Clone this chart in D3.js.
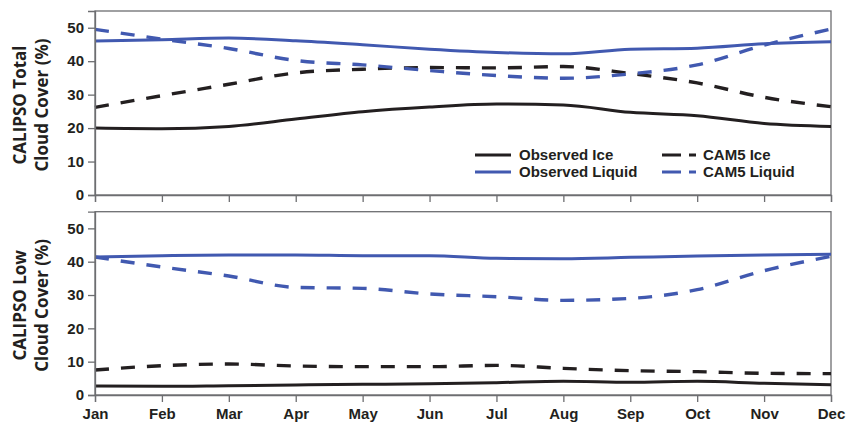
<!DOCTYPE html>
<html><head><meta charset="utf-8">
<script src="https://cdn.jsdelivr.net/npm/d3@7"></script>
<style>body{margin:0;background:#fff}</style>
</head><body>
<svg id="c" width="849" height="423"></svg>
<script>
const months = ["Jan","Feb","Mar","Apr","May","Jun","Jul","Aug","Sep","Oct","Nov","Dec"];
const yTicks = [0,10,20,30,40,50];
// Top panel: CALIPSO Total Cloud Cover (%)
const totalObsIce    = [20.0,19.8,20.5,22.7,24.9,26.3,27.2,26.9,24.7,23.7,21.4,20.5];
const totalObsLiquid = [46.0,46.4,46.9,46.1,44.9,43.6,42.6,42.2,43.6,43.9,45.2,45.8];
const totalCamIce    = [26.2,29.7,33.1,36.5,37.6,38.1,38.0,38.4,36.3,33.5,29.2,26.4];
const totalCamLiquid = [49.5,46.6,43.8,40.2,38.9,37.2,35.7,34.9,36.2,38.9,44.8,49.6];
// Bottom panel: CALIPSO Low Cloud Cover (%)
const lowObsIce    = [2.7,2.6,2.8,3.0,3.2,3.4,3.7,4.1,3.8,4.1,3.5,3.1];
const lowObsLiquid = [41.4,41.8,42.0,42.0,41.8,41.8,41.0,40.9,41.3,41.7,42.0,42.2];
const lowCamIce    = [7.5,8.8,9.3,8.7,8.5,8.5,8.9,8.0,7.3,7.0,6.5,6.4];
const lowCamLiquid = [41.4,38.4,35.7,32.3,32.0,30.3,29.5,28.4,29.0,31.6,37.3,41.6];

const BLACK = "#231f20", BLUE = "#4159b0", FRAME = "#6d6e71";
const DASH = "14,12";
const svg = d3.select("#c");
const L = 95, R = 831;
const x = d3.scalePoint().domain(months).range([L, R]);

const panels = [
  {top: 11, bottom: 195, title: ["CALIPSO Total","Cloud Cover (%)"],
   series: [
     {v: totalObsIce, c: BLACK, dash: null},
     {v: totalObsLiquid, c: BLUE, dash: null},
     {v: totalCamIce, c: BLACK, dash: DASH},
     {v: totalCamLiquid, c: BLUE, dash: DASH}], labels: false, legend: true},
  {top: 211.7, bottom: 395, title: ["CALIPSO Low","Cloud Cover (%)"],
   series: [
     {v: lowObsIce, c: BLACK, dash: null},
     {v: lowObsLiquid, c: BLUE, dash: null},
     {v: lowCamIce, c: BLACK, dash: DASH},
     {v: lowCamLiquid, c: BLUE, dash: DASH}], labels: true, legend: false}
];

panels.forEach(p => {
  const y = d3.scaleLinear().domain([0,55]).range([p.bottom, p.top]);
  const g = svg.append("g");
  g.append("rect").attr("x", L).attr("y", p.top).attr("width", R-L).attr("height", p.bottom-p.top)
    .attr("fill","none").attr("stroke", FRAME).attr("stroke-width", 1.3);

  const line = d3.line().x((d,i)=>x(months[i])).y(d=>y(d)).curve(d3.curveMonotoneX);
  p.series.forEach(s => {
    g.append("path").datum(s.v).attr("d", line).attr("fill","none")
      .attr("stroke", s.c).attr("stroke-width", s.dash ? 3.4 : 3)
      .attr("stroke-dasharray", s.dash);
  });

  const ya = g.append("g").attr("transform", `translate(${L},0)`)
    .call(d3.axisLeft(y).tickValues(yTicks).tickSize(7).tickPadding(4));
  ya.select(".domain").attr("stroke", FRAME).attr("stroke-width",1.3);
  ya.selectAll(".tick line").attr("stroke", FRAME).attr("stroke-width",1.3);
  ya.selectAll("text").attr("font-family","Liberation Sans, Arial, sans-serif")
    .attr("font-weight","bold").attr("font-size",15).attr("fill", BLACK);

  const xa = g.append("g").attr("transform", `translate(0,${p.bottom})`)
    .call(d3.axisBottom(x).tickSize(7).tickPadding(6).tickFormat(p.labels ? d=>d : ()=>""));
  xa.select(".domain").attr("stroke", FRAME).attr("stroke-width",1.3);
  xa.selectAll(".tick line").attr("stroke", FRAME).attr("stroke-width",1.3);
  xa.selectAll("text").attr("font-family","Liberation Sans, Arial, sans-serif")
    .attr("font-weight","bold").attr("font-size",15).attr("fill", BLACK);

  const cy = (p.top + p.bottom)/2 + 2;
  const t = g.append("text").attr("transform", `translate(26,${cy}) rotate(-90)`)
    .attr("text-anchor","middle").attr("font-family","Open Sans, sans-serif")
    .attr("font-weight","bold").attr("font-size",17).attr("fill", BLACK);
  t.append("tspan").attr("x",0).attr("dy",0).text(p.title[0]);
  t.append("tspan").attr("x",0).attr("dy",22).text(p.title[1]);

  if (p.legend) {
    const items = [
      {name:"Observed Ice", c: BLACK, dash: null, x: 475, y: 155},
      {name:"Observed Liquid", c: BLUE, dash: null, x: 475, y: 172},
      {name:"CAM5 Ice", c: BLACK, dash: "19,8,7,40", x: 662, y: 155},
      {name:"CAM5 Liquid", c: BLUE, dash: "19,8,7,40", x: 662, y: 172}];
    items.forEach(it => {
      g.append("line").attr("x1", it.x).attr("x2", it.x + (it.dash ? 34 : 36))
        .attr("y1", it.y).attr("y2", it.y).attr("stroke", it.c).attr("stroke-width", 3)
        .attr("stroke-dasharray", it.dash);
      g.append("text").attr("x", it.x + (it.dash ? 41 : 44)).attr("y", it.y).attr("dy","0.35em")
        .attr("font-family","Liberation Sans, Arial, sans-serif").attr("font-weight","bold")
        .attr("font-size",15).attr("fill", BLACK).text(it.name);
    });
  }
});
</script>
</body></html>
